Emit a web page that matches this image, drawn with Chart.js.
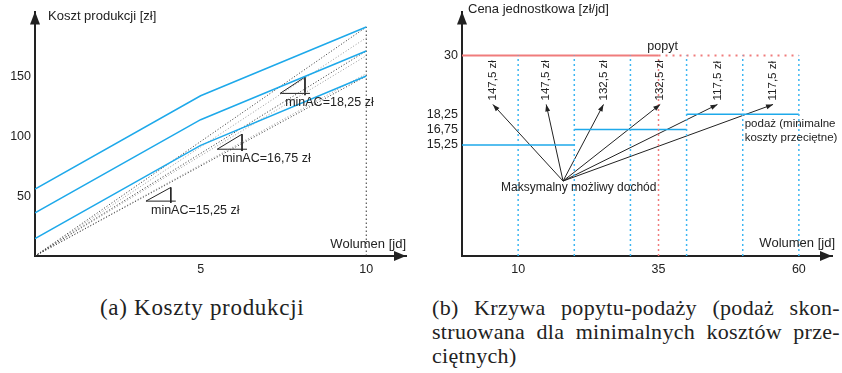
<!DOCTYPE html>
<html>
<head>
<meta charset="utf-8">
<script src="https://cdn.jsdelivr.net/npm/chart.js@4.4.0/dist/chart.umd.min.js"></script>
<style>
  body { margin: 0; background: #fff; width: 842px; height: 373px; position: relative; overflow: hidden; }
  #costChart { position: absolute; left: 0; top: 0; }
  #marketChart { position: absolute; left: 420px; top: 0; }
  .caption { position: absolute; font-family: 'Liberation Serif', serif; line-height: 24px; color: #222; white-space: nowrap; }
  #capA { left: 100px; top: 296px; font-size: 23px; letter-spacing: 0.7px; }
  #capB { left: 432px; top: 296px; width: 408px; font-size: 22px; letter-spacing: 0.3px; }
  #capB .j { text-align: justify; text-align-last: justify; }
</style>
</head>
<body>
<canvas id="costChart" width="420" height="280"></canvas>
<canvas id="marketChart" width="422" height="280"></canvas>
<div class="caption" id="capA">(a) Koszty produkcji</div>
<div class="caption" id="capB">
  <div class="j">(b) Krzywa popytu-podaży (podaż skon-</div>
  <div class="j">struowana dla minimalnych kosztów prze-</div>
  <div>ciętnych)</div>
</div>
<script>
// (a) production cost
const volume = [0, 5, 10];
const costHigh = [56, 134, 191.5];
const costMid = [36, 114, 171.5];
const costLow = [14.5, 92.5, 150.5];
const minAC = [18.25, 16.75, 15.25];
const minACLabels = ['minAC=18,25 zł', 'minAC=16,75 zł', 'minAC=15,25 zł'];
const triVolume = [7.4, 5.5, 3.35];
const triCost = [136, 89.3, 45.9];
const costTicks = [50, 100, 150];
const volumeTicksA = [5, 10];

// (b) demand / supply
const demandPrice = 30;
const demandSolidTo = 35;
const demandDottedTo = 60;
const supplyFrom = [0, 20, 40];
const supplyTo = [20, 40, 60];
const supplyPrice = [15.25, 16.75, 18.25];
const gridVolumes = [10, 20, 30, 40, 50, 60];
const incomeLabels = ['147,5 zł', '147,5 zł', '132,5 zł', '132,5 zł', '117,5 zł', '117,5 zł'];
const incomeVolumes = [5.5, 15, 25.2, 35.3, 45.5, 55.4];
const incomePrice = 20.2;
const incomeOrigin = { x: 18, y: 10.3 };
const priceTicks = [15.25, 16.75, 18.25, 30];
const volumeTicksB = [10, 35, 60];

const BLUE = '#1ea9ea';
const RED = '#f07c7c';
const INK = '#222';
const FONT = "'Liberation Sans', Arial, sans-serif";

Chart.defaults.font.family = FONT;
Chart.defaults.font.size = 12.5;
Chart.defaults.color = INK;

// the price axis in (b) is not drawn to scale, so squeeze it piecewise
const knotValues = [0, 15.25, 18.25, 38.8];
const knotFracs = [0, 0.454, 0.58, 1];

function interp(v, xs, ys) {
  for (let i = 1; i < xs.length; i++) {
    if (v <= xs[i] || i === xs.length - 1) {
      const t = (v - xs[i - 1]) / (xs[i] - xs[i - 1]);
      return ys[i - 1] + t * (ys[i] - ys[i - 1]);
    }
  }
}

class SqueezedScale extends Chart.LinearScale {
  getPixelForValue(value) {
    if (value === null || value === undefined) return NaN;
    return this.getPixelForDecimal(interp(value, knotValues, knotFracs));
  }
  getValueForPixel(pixel) {
    return interp(this.getDecimalForPixel(pixel), knotFracs, knotValues);
  }
}
SqueezedScale.id = 'squeezed';
SqueezedScale.defaults = {};
Chart.register(SqueezedScale);

const pts = (xs, ys) => xs.map((x, i) => ({ x: x, y: ys[i] }));
const fmt = v => String(v).replace('.', ',');

function drawAxisArrows(ctx, a) {
  ctx.fillStyle = INK;
  ctx.beginPath();
  ctx.moveTo(a.left, a.top);
  ctx.lineTo(a.left - 5, a.top + 13);
  ctx.lineTo(a.left + 5, a.top + 13);
  ctx.fill();
  ctx.beginPath();
  ctx.moveTo(a.right, a.bottom);
  ctx.lineTo(a.right - 12, a.bottom - 5);
  ctx.lineTo(a.right - 12, a.bottom + 5);
  ctx.fill();
}

function text(ctx, s, x, y, align) {
  ctx.textAlign = align || 'left';
  ctx.textBaseline = 'middle';
  ctx.fillText(s, x, y);
}

const costExtras = {
  id: 'costExtras',
  afterDraw(chart) {
    const ctx = chart.ctx, a = chart.chartArea;
    const xs = chart.scales.x, ys = chart.scales.y;
    ctx.save();
    drawAxisArrows(ctx, a);
    ctx.fillStyle = INK;
    ctx.font = '13px ' + FONT;
    text(ctx, 'Koszt produkcji [zł]', a.left + 13, 16);
    text(ctx, 'Wolumen [jd]', a.right, a.bottom - 12, 'right');
    ctx.font = '12.5px ' + FONT;
    minACLabels.forEach((lab, i) => {
      text(ctx, lab, xs.getPixelForValue(triVolume[i]) + 5, ys.getPixelForValue(triCost[i]) + 9);
    });
    ctx.restore();
  }
};

const costData = [];
[costHigh, costMid, costLow].forEach(c => {
  costData.push({ data: pts(volume, c), borderColor: BLUE, borderWidth: 1.5 });
});
[costHigh, costMid, costLow].forEach(c => {
  costData.push({ data: [{ x: 0, y: 0 }, { x: 10, y: c[2] }], borderColor: '#333', borderWidth: 1, borderDash: [1, 2] });
});
minAC.forEach(m => {
  costData.push({ data: [{ x: 0, y: 0 }, { x: 10, y: m * 10 }], borderColor: '#9a9a9a', borderWidth: 1, borderDash: [1, 2] });
});
costData.push({ data: [{ x: 10, y: 0 }, { x: 10, y: costHigh[2] }], borderColor: '#333', borderWidth: 1, borderDash: [1.5, 2.5] });
// slope triangles: run 0.75 jd, rise minAC * run
minAC.forEach((m, i) => {
  const x0 = triVolume[i], y0 = triCost[i], run = 0.75;
  costData.push({
    data: [{ x: x0 + run + 0.15, y: y0 }, { x: x0, y: y0 }, { x: x0 + run, y: y0 + m * run }, { x: x0 + run, y: y0 - 1.5 }],
    borderColor: INK, borderWidth: 1
  });
});

new Chart(document.getElementById('costChart'), {
  type: 'line',
  data: { datasets: costData },
  options: {
    responsive: false,
    animation: false,
    layout: { padding: { top: 7, right: 14, left: 0, bottom: 0 } },
    plugins: { legend: { display: false }, tooltip: { enabled: false } },
    elements: { point: { radius: 0 }, line: { tension: 0 } },
    scales: {
      x: {
        type: 'linear', min: 0, max: 11.2,
        grid: { display: false, drawTicks: false },
        border: { color: INK, width: 2 },
        ticks: { padding: 6, autoSkip: false },
        afterBuildTicks: s => { s.ticks = volumeTicksA.map(v => ({ value: v })); },
        afterFit: s => { s.height = 24; }
      },
      y: {
        type: 'linear', min: 0, max: 204.5,
        grid: { display: false, drawTicks: false },
        border: { color: INK, width: 2 },
        ticks: { padding: 4, autoSkip: false },
        afterBuildTicks: s => { s.ticks = costTicks.map(v => ({ value: v })); },
        afterFit: s => { s.width = 35; }
      }
    }
  },
  plugins: [costExtras]
});

const marketExtras = {
  id: 'marketExtras',
  afterDraw(chart) {
    const ctx = chart.ctx, a = chart.chartArea;
    const xs = chart.scales.x, ys = chart.scales.y;
    ctx.save();
    drawAxisArrows(ctx, a);
    ctx.fillStyle = INK;
    ctx.font = '13px ' + FONT;
    text(ctx, 'Cena jednostkowa [zł/jd]', a.left + 6, 9);
    text(ctx, 'Wolumen [jd]', a.right + 3, a.bottom - 13, 'right');
    ctx.font = '12.5px ' + FONT;
    text(ctx, 'popyt', xs.getPixelForValue(33), ys.getPixelForValue(demandPrice) - 9);
    ctx.font = '11.5px ' + FONT;
    const px = xs.getPixelForValue(50) + 2, py = ys.getPixelForValue(supplyPrice[2]);
    text(ctx, 'podaż (minimalne', px, py + 10);
    text(ctx, 'koszty przeciętne)', px, py + 24);
    const ox = xs.getPixelForValue(incomeOrigin.x), oy = ys.getPixelForValue(incomeOrigin.y);
    ctx.font = '12px ' + FONT;
    text(ctx, 'Maksymalny możliwy dochód', ox - 62, oy + 7);
    // arrow heads and rotated income labels
    ctx.font = '11.5px ' + FONT;
    let k = 0;
    chart.data.datasets.forEach((ds, i) => {
      if (!ds.arrowHead) return;
      const p = chart.getDatasetMeta(i).data;
      const p0 = p[0], p1 = p[1];
      const ang = Math.atan2(p1.y - p0.y, p1.x - p0.x);
      ctx.save();
      ctx.translate(p1.x, p1.y);
      ctx.rotate(ang);
      ctx.beginPath();
      ctx.moveTo(0, 0);
      ctx.lineTo(-7, -2.5);
      ctx.lineTo(-7, 2.5);
      ctx.fill();
      ctx.restore();
      ctx.save();
      ctx.translate(p1.x, p1.y - 4);
      ctx.rotate(-Math.PI / 2);
      text(ctx, incomeLabels[k], 0, 0);
      ctx.restore();
      k++;
    });
    ctx.restore();
  }
};

const marketData = [];
gridVolumes.forEach(v => {
  marketData.push({ data: [{ x: v, y: 0 }, { x: v, y: demandPrice }], borderColor: '#3cb6f2', borderWidth: 1.5, borderDash: [2, 3] });
});
marketData.push({ data: [{ x: demandSolidTo, y: 0 }, { x: demandSolidTo, y: demandPrice }], borderColor: RED, borderWidth: 1.5, borderDash: [2, 3] });
supplyPrice.forEach((p, i) => {
  marketData.push({ data: [{ x: supplyFrom[i], y: p }, { x: supplyTo[i], y: p }], borderColor: BLUE, borderWidth: 1.5 });
});
marketData.push({ data: [{ x: 0, y: demandPrice }, { x: demandSolidTo, y: demandPrice }], borderColor: RED, borderWidth: 2 });
marketData.push({ data: [{ x: demandSolidTo, y: demandPrice }, { x: demandDottedTo, y: demandPrice }], borderColor: RED, borderWidth: 2, borderDash: [2, 5] });
incomeVolumes.forEach(v => {
  marketData.push({ data: [incomeOrigin, { x: v, y: incomePrice }], borderColor: INK, borderWidth: 1, arrowHead: true });
});

new Chart(document.getElementById('marketChart'), {
  type: 'line',
  data: { datasets: marketData },
  options: {
    responsive: false,
    animation: false,
    layout: { padding: { top: 7, right: 10, left: 0, bottom: 0 } },
    plugins: { legend: { display: false }, tooltip: { enabled: false } },
    elements: { point: { radius: 0 }, line: { tension: 0 } },
    scales: {
      x: {
        type: 'linear', min: 0, max: 65.9,
        grid: { display: false, drawTicks: false },
        border: { color: INK, width: 2 },
        ticks: { padding: 6, autoSkip: false },
        afterBuildTicks: s => { s.ticks = volumeTicksB.map(v => ({ value: v })); },
        afterFit: s => { s.height = 24; }
      },
      y: {
        type: 'squeezed', min: 0, max: 38.8,
        grid: { display: false, drawTicks: false },
        border: { color: INK, width: 2 },
        ticks: { padding: 4, autoSkip: false, callback: v => fmt(v) },
        afterBuildTicks: s => { s.ticks = priceTicks.map(v => ({ value: v })); },
        afterFit: s => { s.width = 42; }
      }
    }
  },
  plugins: [marketExtras]
});
</script>
</body>
</html>
